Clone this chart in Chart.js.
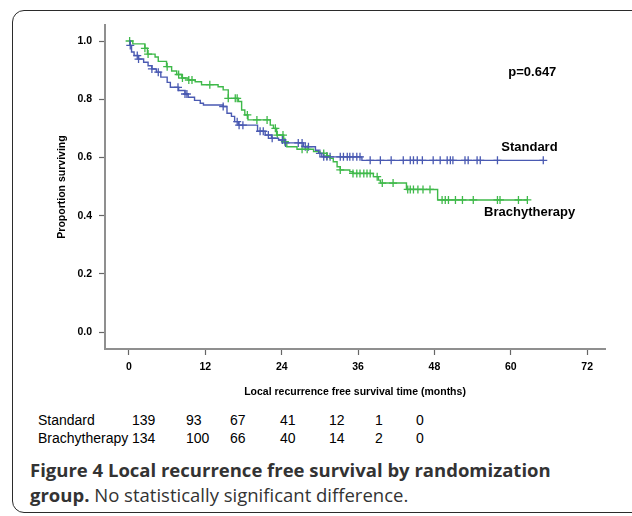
<!DOCTYPE html>
<html>
<head>
<meta charset="utf-8">
<script src="https://cdn.jsdelivr.net/npm/chart.js@4.4.1/dist/chart.umd.min.js"></script>
<style>
  html, body { margin: 0; padding: 0; background: #fff; }
  body { width: 632px; height: 516px; position: relative; overflow: hidden; }
  #frame {
    position: absolute; left: 12px; top: 10px; width: 650px; height: 501px;
    border: 1.5px solid #2b2b2b; border-radius: 12px;
  }
  #km { position: absolute; left: 0; top: 0; }
  .risk {
    position: absolute; left: 0; font: 14px "Liberation Sans", Arial, sans-serif; color: #000;
    white-space: nowrap;
  }
  .risk span { position: absolute; }
  #caption {
    position: absolute; left: 30px; top: 457px; width: 540px;
    font: 18.5px "Open Sans", sans-serif; color: #333; line-height: 25px;
  }
  #caption b { font-weight: 700; }
</style>
</head>
<body>
<div id="frame"></div>
<canvas id="km" width="632" height="400"></canvas>
<div class="risk" id="riskStd" style="top:412px"></div>
<div class="risk" id="riskBra" style="top:430px"></div>
<div id="caption"><b>Figure 4 Local recurrence free survival by randomization group.</b> No statistically significant difference.</div>
<script>
// ── Data ──────────────────────────────────────────
const xTicks = [0, 12, 24, 36, 48, 60, 72];
const yTicks = [0.0, 0.2, 0.4, 0.6, 0.8, 1.0];

// Standard arm: step times (months) and survival after each step
const stdTimes = [0, 0.2, 0.4, 0.8, 1.5, 2.3, 3.0, 3.6, 4.3, 5.0, 6.0, 6.5, 7.8, 8.8, 9.3, 10.3, 11.2, 11.7,
  14.8, 15.4, 16.1, 16.6, 17.2, 20.2, 21.4, 22.4, 23.5, 24.5, 27.4, 29.3, 29.8, 30.3, 36.6, 65.1];
const stdSurv = [1.0, 0.985, 0.962, 0.950, 0.938, 0.927, 0.915, 0.904, 0.893, 0.876, 0.858, 0.841, 0.830, 0.818, 0.807, 0.796, 0.786, 0.780,
  0.775, 0.752, 0.741, 0.723, 0.711, 0.690, 0.677, 0.666, 0.660, 0.650, 0.637, 0.625, 0.614, 0.602, 0.590, 0.590];
const stdCensored = [0.2, 1.3, 1.5, 3.6, 4.6, 7.7, 8.8, 9.1, 14.8, 17.0, 17.3, 17.9, 20.6, 21.1, 21.9, 22.5, 24.1, 24.6,
  26.6, 27.2, 27.7, 28.2, 30.0, 30.6, 31.1, 31.6, 33.2, 33.7, 34.3, 34.7, 35.2, 35.8, 36.3, 37.9, 39.5, 41.2, 43.1,
  44.2, 44.7, 45.3, 46.1, 47.8, 48.9, 50.0, 50.5, 50.9, 52.8, 53.3, 54.7, 55.2, 57.9, 65.1];

// Brachytherapy arm
const braTimes = [0, 0.6, 2.5, 2.9, 4.1, 4.6, 5.9, 6.7, 7.5, 8.3, 9.3, 10.4, 11.4, 14.0, 14.8, 15.6, 17.2, 17.7, 18.2, 18.7,
  22.2, 22.7, 23.2, 24.3, 24.8, 26.4, 29.0, 30.0, 31.1, 31.6, 32.1, 32.7, 33.2, 34.7, 35.2, 38.4, 39.2, 39.5, 43.6, 48.5, 62.6];
const braSurv = [1.0, 0.990, 0.975, 0.955, 0.945, 0.930, 0.912, 0.897, 0.885, 0.873, 0.866, 0.860, 0.850, 0.843, 0.832, 0.803, 0.792, 0.763, 0.746, 0.729,
  0.711, 0.700, 0.677, 0.654, 0.637, 0.628, 0.620, 0.614, 0.605, 0.597, 0.585, 0.568, 0.557, 0.551, 0.545, 0.534, 0.522, 0.512, 0.490, 0.454, 0.454];
const braCensored = [0.1, 2.5, 3.0, 6.0, 7.8, 8.4, 9.4, 9.9, 12.7, 15.6, 16.7, 17.0, 18.6, 20.1, 21.7, 23.0, 23.3, 24.2, 24.5,
  27.2, 28.0, 30.6, 31.1, 33.2, 35.2, 35.8, 36.3, 36.9, 37.4, 37.9, 39.0, 39.8, 41.5, 43.8, 44.2, 44.7, 45.4, 46.2, 47.3,
  49.2, 49.7, 50.2, 51.3, 52.4, 54.1, 57.9, 58.3, 61.2, 62.6];

// Numbers at risk
const riskGroups = ['Standard', 'Brachytherapy'];
const stdAtRisk = [139, 93, 67, 41, 12, 1, 0];
const braAtRisk = [134, 100, 66, 40, 14, 2, 0];

// ── Helpers ───────────────────────────────────────
const BLUE = '#4a5ab2';
const GREEN = '#3fb94a';
const FONT = '"Liberation Sans", Arial, sans-serif';

function steps(times, surv) {
  return times.map((t, i) => ({ x: t, y: surv[i] }));
}
// censor marks sit on the curve: look up the survival at that time
function marks(cens, times, surv) {
  return cens.map(t => {
    let k = 0;
    for (let i = 0; i < times.length; i++) if (times[i] <= t) k = i;
    return { x: t, y: surv[k] };
  });
}

// ── Text labels inside the plot ───────────────────
const plotLabels = {
  id: 'plotLabels',
  afterDatasetsDraw(chart) {
    const { ctx, scales: { x, y } } = chart;
    ctx.save();
    ctx.fillStyle = '#000';
    ctx.font = 'bold 13px ' + FONT;
    ctx.textBaseline = 'middle';
    ctx.textAlign = 'left';
    ctx.fillText('p=0.647', x.getPixelForValue(59.6), y.getPixelForValue(0.893));
    ctx.fillText('Standard', x.getPixelForValue(58.5), y.getPixelForValue(0.636));
    ctx.fillText('Brachytherapy', x.getPixelForValue(55.8), y.getPixelForValue(0.412));
    ctx.restore();
  }
};

const axisGrid = {
  drawOnChartArea: false, drawTicks: true, tickLength: 6,
  tickColor: '#666', tickWidth: 1.2
};
const axisBorder = { display: true, color: '#8f8f8f', width: 2 };
const tickFont = { family: FONT, size: 10.5, weight: 'bold' };

new Chart(document.getElementById('km'), {
  type: 'line',
  data: {
    datasets: [
      { label: 'Standard', data: steps(stdTimes, stdSurv), borderColor: BLUE, borderWidth: 1.4,
        stepped: 'before', pointRadius: 0, fill: false },
      { label: 'Brachytherapy', data: steps(braTimes, braSurv), borderColor: GREEN, borderWidth: 1.4,
        stepped: 'before', pointRadius: 0, fill: false },
      { label: 'Standard censored', data: marks(stdCensored, stdTimes, stdSurv), showLine: false,
        pointStyle: 'cross', pointRadius: 4, borderColor: BLUE, pointBorderWidth: 1.3 },
      { label: 'Brachytherapy censored', data: marks(braCensored, braTimes, braSurv), showLine: false,
        pointStyle: 'cross', pointRadius: 4, borderColor: GREEN, pointBorderWidth: 1.3 }
    ]
  },
  options: {
    responsive: false,
    animation: false,
    layout: { padding: { left: 50, right: 27, top: 25, bottom: 0 } },
    plugins: { legend: { display: false }, tooltip: { enabled: false } },
    scales: {
      x: {
        type: 'linear', min: -3.77, max: 74.8,
        grid: axisGrid, border: axisBorder,
        afterBuildTicks: axis => { axis.ticks = xTicks.map(v => ({ value: v })); },
        afterFit: axis => { axis.height = 51; },
        ticks: { color: '#000', font: tickFont, padding: 6,
          maxRotation: 0, autoSkip: false, callback: v => String(v) },
        title: { display: true, text: 'Local recurrence free survival time (months)', color: '#000',
          font: { family: FONT, size: 10.5, weight: 'bold' }, padding: { top: 0, bottom: 2 } }
      },
      y: {
        type: 'linear', min: -0.058, max: 1.055,
        grid: axisGrid, border: axisBorder,
        afterBuildTicks: axis => { axis.ticks = yTicks.map(v => ({ value: v })); },
        afterFit: axis => { axis.width = 55; },
        ticks: { color: '#000', font: tickFont, padding: 7,
          callback: v => v.toFixed(1) },
        title: { display: true, text: 'Proportion surviving', color: '#000',
          font: { family: FONT, size: 10.5, weight: 'bold' }, padding: { top: 6, bottom: 0 } }
      }
    }
  },
  plugins: [plotLabels]
});

// ── Numbers-at-risk table ─────────────────────────
const riskCols = [132, 186, 230, 280, 329, 375, 416];
[['riskStd', stdAtRisk], ['riskBra', braAtRisk]].forEach(([id, vals], r) => {
  const row = document.getElementById(id);
  let html = `<span style="left:38px">${riskGroups[r]}</span>`;
  vals.forEach((v, i) => { html += `<span style="left:${riskCols[i]}px">${v}</span>`; });
  row.innerHTML = html;
});
</script>
</body>
</html>
